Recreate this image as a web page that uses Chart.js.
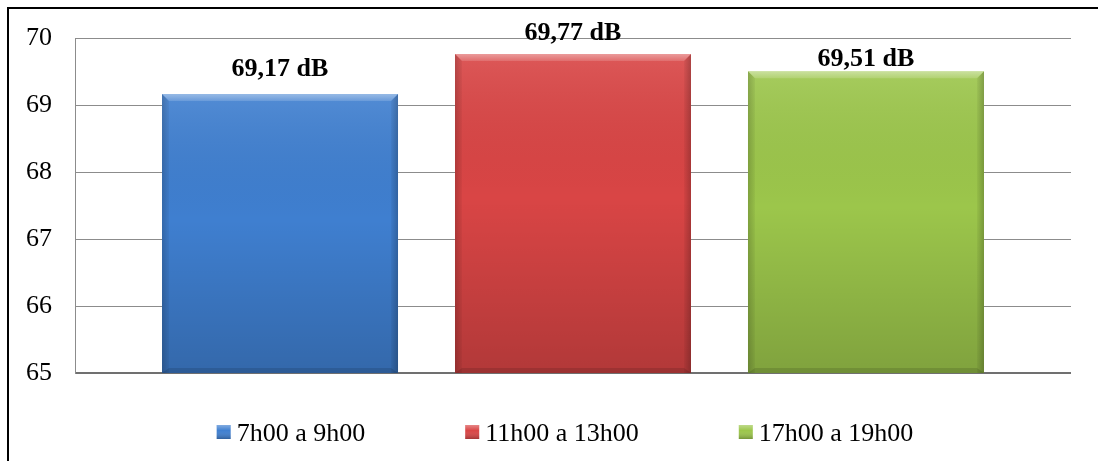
<!DOCTYPE html>
<html>
<head>
<meta charset="utf-8">
<script src="https://cdn.jsdelivr.net/npm/chart.js@4.4.1/dist/chart.umd.min.js"></script>
<style>
  html, body { margin: 0; padding: 0; background: #ffffff; overflow: hidden; }
  canvas { display: block; }
</style>
</head>
<body>
<canvas id="c" width="1098" height="461"></canvas>
<script>
// Noise level per time window (dB)
const periods = ['7h00 a 9h00', '11h00 a 13h00', '17h00 a 19h00'];
const levels = [69.17, 69.77, 69.51];
const valueLabels = ['69,17 dB', '69,77 dB', '69,51 dB'];
const yTicks = [65, 66, 67, 68, 69, 70];

const baseColors = ['#3f7fd0', '#d94545', '#9cc64b'];
const labelLift = [18, 14, 5];
const serif = "'Liberation Serif', 'Times New Roman', serif";

const datasets = periods.map((name, i) => ({
  label: name,
  data: [levels[i]],
  backgroundColor: baseColors[i],
  borderWidth: 0
}));

// Page frame: black rule along the left and top edges
const framePlugin = {
  id: 'frame',
  beforeDraw(chart) {
    const ctx = chart.ctx;
    ctx.save();
    ctx.fillStyle = '#fff';
    ctx.fillRect(0, 0, chart.width, chart.height);
    ctx.strokeStyle = '#000';
    ctx.lineWidth = 2;
    ctx.beginPath();
    ctx.moveTo(8, chart.height);
    ctx.lineTo(8, 8);
    ctx.lineTo(chart.width, 8);
    ctx.stroke();
    ctx.restore();
  }
};

// Bevelled look for each bar: vertical shading, darker side edges, light top rim
const bevelPlugin = {
  id: 'bevel',
  afterDatasetDraw(chart, args) {
    const ctx = chart.ctx;
    const area = chart.chartArea;
    args.meta.data.forEach(bar => {
      const p = bar.getProps(['x', 'y', 'base', 'width'], true);
      const l = p.x - p.width / 2, r = p.x + p.width / 2;
      const t = Math.max(p.y, area.top), b = Math.min(p.base, area.bottom);
      const h = b - t, e = 7;
      ctx.save();
      ctx.beginPath();
      ctx.rect(area.left, area.top, area.right - area.left, area.bottom - area.top);
      ctx.clip();
      let g = ctx.createLinearGradient(0, t, 0, b);
      g.addColorStop(0, 'rgba(255,255,255,0.10)');
      g.addColorStop(0.45, 'rgba(0,0,0,0.0)');
      g.addColorStop(1, 'rgba(0,0,0,0.18)');
      ctx.fillStyle = g;
      ctx.fillRect(l, t, r - l, h);
      // side edges
      g = ctx.createLinearGradient(l, 0, l + e, 0);
      g.addColorStop(0, 'rgba(0,0,0,0.18)');
      g.addColorStop(1, 'rgba(0,0,0,0.04)');
      ctx.fillStyle = g;
      ctx.beginPath();
      ctx.moveTo(l, t); ctx.lineTo(l + e, t + e); ctx.lineTo(l + e, b); ctx.lineTo(l, b); ctx.closePath();
      ctx.fill();
      g = ctx.createLinearGradient(r - e, 0, r, 0);
      g.addColorStop(0, 'rgba(0,0,0,0.04)');
      g.addColorStop(1, 'rgba(0,0,0,0.22)');
      ctx.fillStyle = g;
      ctx.beginPath();
      ctx.moveTo(r, t); ctx.lineTo(r - e, t + e); ctx.lineTo(r - e, b); ctx.lineTo(r, b); ctx.closePath();
      ctx.fill();
      // top rim
      g = ctx.createLinearGradient(0, t, 0, t + e);
      g.addColorStop(0, 'rgba(255,255,255,0.40)');
      g.addColorStop(1, 'rgba(255,255,255,0.14)');
      ctx.fillStyle = g;
      ctx.beginPath();
      ctx.moveTo(l, t); ctx.lineTo(r, t); ctx.lineTo(r - e, t + e); ctx.lineTo(l + e, t + e); ctx.closePath();
      ctx.fill();
      // bottom rim
      ctx.fillStyle = 'rgba(0,0,0,0.12)';
      ctx.beginPath();
      ctx.moveTo(l, b); ctx.lineTo(r, b); ctx.lineTo(r - e, b - 5); ctx.lineTo(l + e, b - 5); ctx.closePath();
      ctx.fill();
      ctx.restore();
    });
  }
};

// Value text above each bar
const valueLabelPlugin = {
  id: 'valueLabels',
  afterDatasetsDraw(chart) {
    const ctx = chart.ctx;
    ctx.save();
    ctx.font = 'bold 26px ' + serif;
    ctx.fillStyle = '#000';
    ctx.textAlign = 'center';
    ctx.textBaseline = 'alphabetic';
    chart.data.datasets.forEach((ds, i) => {
      const bar = chart.getDatasetMeta(i).data[0];
      if (!bar) return;
      ctx.fillText(valueLabels[i], bar.x, bar.y - labelLift[i]);
    });
    ctx.restore();
  }
};

// Single-row legend with wide spacing between entries
const rowLegendPlugin = {
  id: 'rowLegend',
  afterDraw(chart) {
    const ctx = chart.ctx;
    const box = 14, textGap = 6, itemGap = 100, baseline = 441;
    ctx.save();
    ctx.font = 'normal 26px ' + serif;
    const widths = chart.data.datasets.map(ds => ctx.measureText(ds.label).width);
    const total = widths.reduce((s, w) => s + box + textGap + w, 0) + itemGap * (widths.length - 1);
    const area = chart.chartArea;
    let x = (area.left + area.right) / 2 - 8 - total / 2;
    chart.data.datasets.forEach((ds, i) => {
      const top = baseline - 16;
      ctx.fillStyle = ds.backgroundColor;
      ctx.fillRect(x, top, box, box);
      const g = ctx.createLinearGradient(0, top, 0, top + box);
      g.addColorStop(0, 'rgba(255,255,255,0.35)');
      g.addColorStop(0.4, 'rgba(255,255,255,0.0)');
      g.addColorStop(1, 'rgba(0,0,0,0.25)');
      ctx.fillStyle = g;
      ctx.fillRect(x, top, box, box);
      ctx.fillStyle = '#000';
      ctx.textBaseline = 'alphabetic';
      ctx.textAlign = 'left';
      ctx.fillText(ds.label, x + box + textGap, baseline);
      x += box + textGap + widths[i] + itemGap;
    });
    ctx.restore();
  }
};

function draw() {
  new Chart(document.getElementById('c'), {
    type: 'bar',
    data: { labels: [''], datasets },
    plugins: [framePlugin, bevelPlugin, valueLabelPlugin, rowLegendPlugin],
    options: {
      responsive: false,
      animation: false,
      categoryPercentage: 0.8825,
      barPercentage: 0.8055,
      layout: { padding: { left: 0, right: 27, top: 38, bottom: 0 } },
      plugins: {
        legend: { display: false },
        tooltip: { enabled: false }
      },
      scales: {
        x: {
          grid: { display: false },
          border: { display: false },
          ticks: { display: false },
          afterFit: s => { s.height = 88; }
        },
        y: {
          min: yTicks[0],
          max: yTicks[yTicks.length - 1],
          afterBuildTicks: s => { s.ticks = yTicks.map(v => ({ value: v })); },
          afterFit: s => { s.width = 75; },
          grid: {
            color: ctx => ctx.tick && ctx.tick.value === yTicks[0] ? '#707070' : '#8c8c8c',
            lineWidth: ctx => ctx.tick && ctx.tick.value === yTicks[0] ? 2 : 1,
            drawTicks: false
          },
          border: { display: true, color: '#8c8c8c', width: 1 },
          ticks: {
            padding: 23,
            color: '#000',
            font: { family: serif, size: 26 }
          }
        }
      }
    }
  });
}

Promise.all([
  document.fonts.load("26px 'Liberation Serif'"),
  document.fonts.load("bold 26px 'Liberation Serif'")
]).then(draw, draw);
</script>
</body>
</html>
